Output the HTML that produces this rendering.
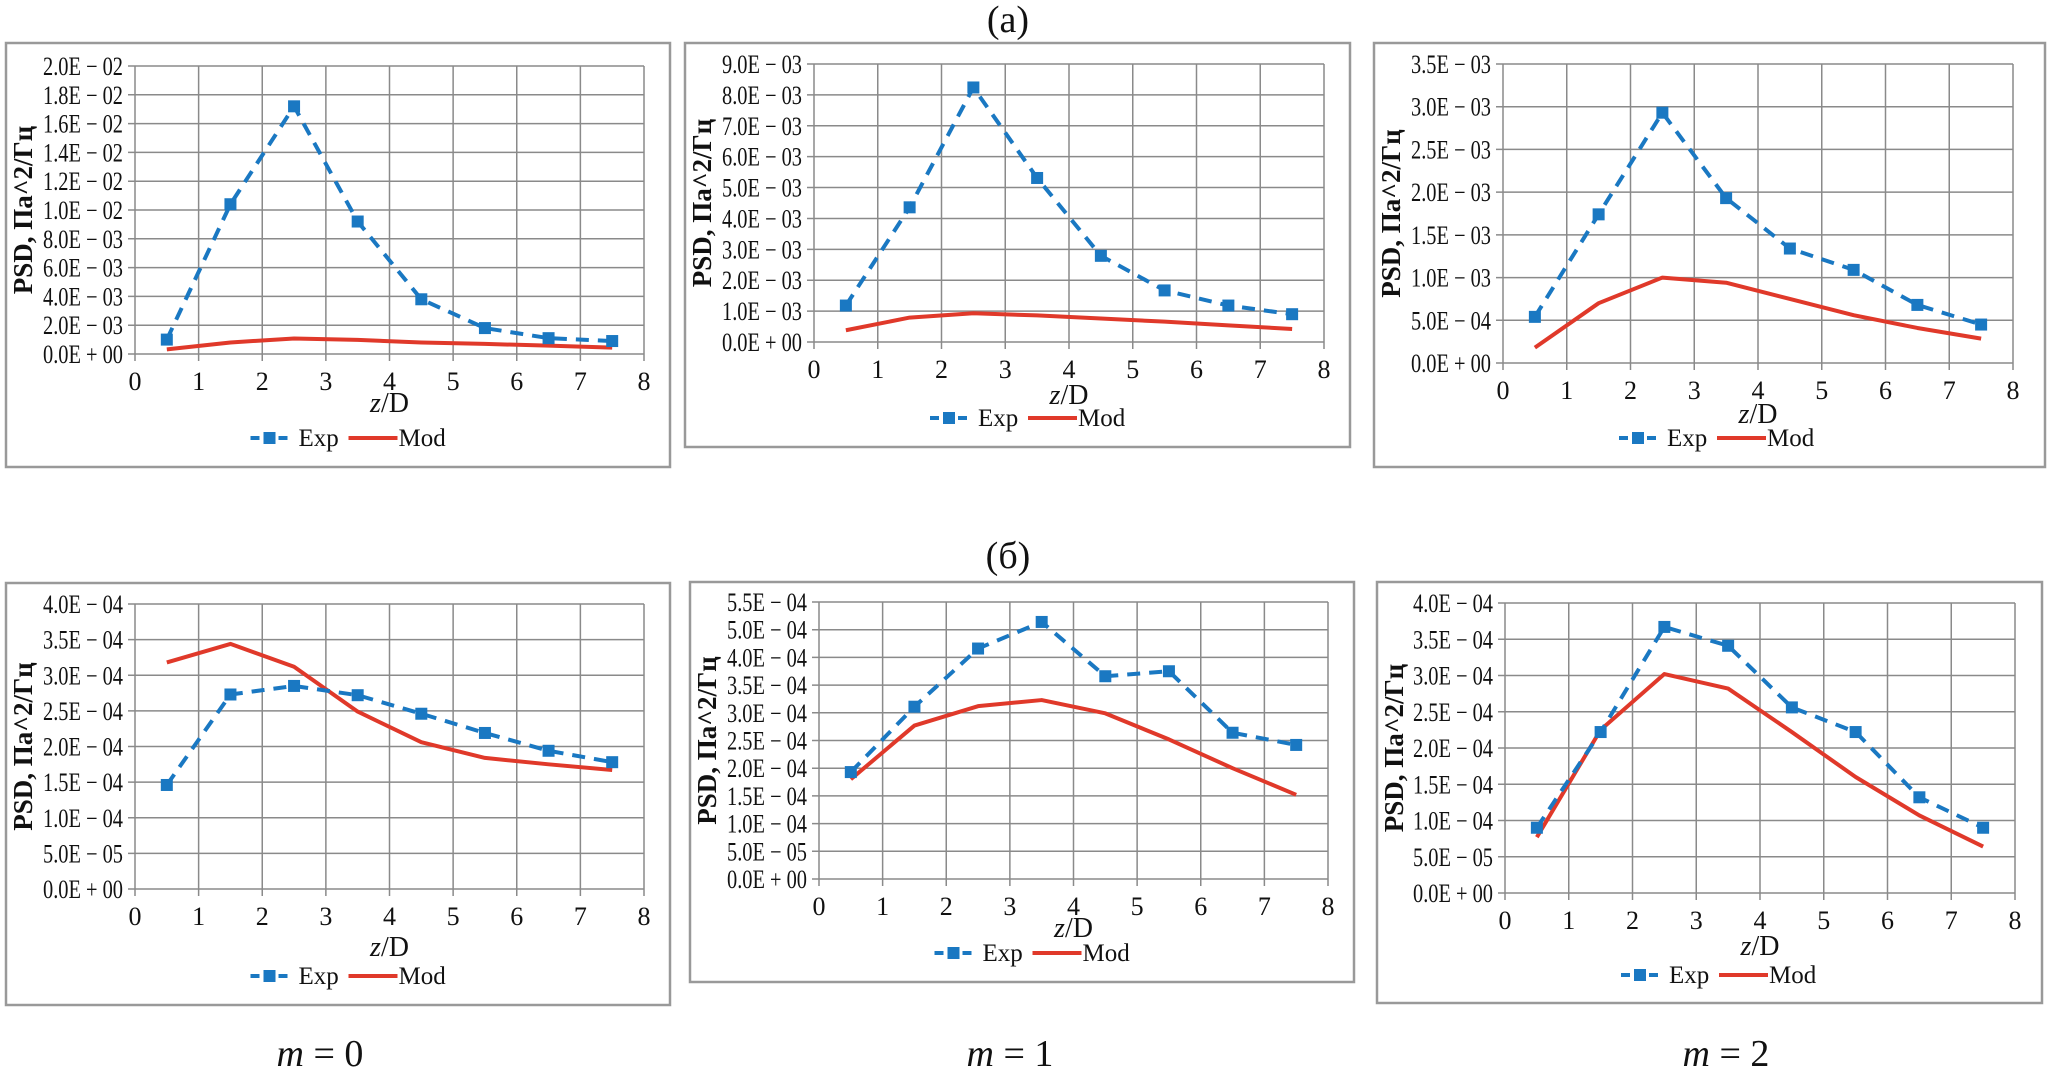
<!DOCTYPE html>
<html><head><meta charset="utf-8"><style>
html,body{margin:0;padding:0;background:#fff;}
svg{display:block;}
text{font-family:"Liberation Serif","DejaVu Serif",serif;fill:#111;}
</style></head><body>
<svg id="fig" width="2055" height="1080" viewBox="0 0 2055 1080" xmlns="http://www.w3.org/2000/svg">
<text x="1008" y="32" font-size="38" text-anchor="middle">(a)</text>
<text x="1008" y="568" font-size="38" text-anchor="middle">(б)</text>
<text x="320" y="1066" font-size="38" text-anchor="middle"><tspan font-style="italic">m</tspan> = 0</text>
<text x="1010" y="1066" font-size="38" text-anchor="middle"><tspan font-style="italic">m</tspan> = 1</text>
<text x="1726" y="1066" font-size="38" text-anchor="middle"><tspan font-style="italic">m</tspan> = 2</text>
</svg>
<script>
// shared x categories
const zCats = [0.5, 1.5, 2.5, 3.5, 4.5, 5.5, 6.5, 7.5];
const xTicks = [0, 1, 2, 3, 4, 5, 6, 7, 8];
// chart a1 (m=0)
const a1Exp = [0.0010, 0.0104, 0.0172, 0.0092, 0.0038, 0.0018, 0.0011, 0.0009];
const a1Mod = [0.00032, 0.0008, 0.00108, 0.00098, 0.0008, 0.0007, 0.00058, 0.00044];
const a1Ticks = ["0.0E + 00","2.0E − 03","4.0E − 03","6.0E − 03","8.0E − 03","1.0E − 02","1.2E − 02","1.4E − 02","1.6E − 02","1.8E − 02","2.0E − 02"];
// chart a2 (m=1)
const a2Exp = [0.00118, 0.00436, 0.00824, 0.00531, 0.00279, 0.00167, 0.00118, 0.0009];
const a2Mod = [0.00038, 0.00079, 0.00093, 0.00086, 0.00076, 0.00066, 0.00054, 0.00042];
const a2Ticks = ["0.0E + 00","1.0E − 03","2.0E − 03","3.0E − 03","4.0E − 03","5.0E − 03","6.0E − 03","7.0E − 03","8.0E − 03","9.0E − 03"];
// chart a3 (m=2)
const a3Exp = [0.00054, 0.00174, 0.00293, 0.00193, 0.00134, 0.00109, 0.00068, 0.00045];
const a3Mod = [0.00018, 0.0007, 0.001, 0.00094, 0.00075, 0.00056, 0.00041, 0.000285];
const a3Ticks = ["0.0E + 00","5.0E − 04","1.0E − 03","1.5E − 03","2.0E − 03","2.5E − 03","3.0E − 03","3.5E − 03"];
// chart b1 (m=0)
const b1Exp = [0.000146, 0.000273, 0.000285, 0.000272, 0.000246, 0.000219, 0.000194, 0.000178];
const b1Mod = [0.000318, 0.000344, 0.000312, 0.000249, 0.000206, 0.000184, 0.000175, 0.000167];
const b1Ticks = ["0.0E + 00","5.0E − 05","1.0E − 04","1.5E − 04","2.0E − 04","2.5E − 04","3.0E − 04","3.5E − 04","4.0E − 04"];
// chart b2 (m=1)
const b2Exp = [0.000193, 0.000311, 0.000416, 0.000464, 0.000366, 0.000375, 0.000264, 0.000242];
const b2Mod = [0.00018, 0.000277, 0.000312, 0.000323, 0.000299, 0.000252, 0.0002, 0.000152];
const b2Ticks = ["0.0E + 00","5.0E − 05","1.0E − 04","1.5E − 04","2.0E − 04","2.5E − 04","3.0E − 04","3.5E − 04","4.0E − 04","5.0E − 04","5.5E − 04"];
// chart b3 (m=2)
const b3Exp = [0.00009, 0.000222, 0.000367, 0.000341, 0.000256, 0.000222, 0.000132, 0.00009];
const b3Mod = [0.000077, 0.000225, 0.000302, 0.000282, 0.000222, 0.00016, 0.000107, 0.000064];
const b3Ticks = ["0.0E + 00","5.0E − 05","1.0E − 04","1.5E − 04","2.0E − 04","2.5E − 04","3.0E − 04","3.5E − 04","4.0E − 04"];

const charts = [
 {id:"a1", exp:a1Exp, mod:a1Mod, ticks:a1Ticks, step:0.002,   box:[6,43,664,424],   plot:[135,66,644,354],  zd:48, lg:84},
 {id:"a2", exp:a2Exp, mod:a2Mod, ticks:a2Ticks, step:0.001,   box:[685,43,665,404], plot:[814,64,1324,342], zd:52, lg:76},
 {id:"a3", exp:a3Exp, mod:a3Mod, ticks:a3Ticks, step:0.0005,  box:[1374,43,671,424],plot:[1503,64,2013,363],zd:50, lg:75},
 {id:"b1", exp:b1Exp, mod:b1Mod, ticks:b1Ticks, step:0.00005, box:[6,583,664,422],  plot:[135,604,644,889], zd:57, lg:87},
 {id:"b2", exp:b2Exp, mod:b2Mod, ticks:b2Ticks, step:0.00005, box:[690,582,664,400],plot:[819,602,1328,879],zd:48, lg:74},
 {id:"b3", exp:b3Exp, mod:b3Mod, ticks:b3Ticks, step:0.00005, box:[1377,582,665,421],plot:[1505,603,2015,893],zd:52, lg:82}
];
const NS = "http://www.w3.org/2000/svg";
const svg = document.getElementById("fig");
function mk(tag, attrs, parent){
  const e = document.createElementNS(NS, tag);
  for (const k in attrs) e.setAttribute(k, attrs[k]);
  (parent||svg).appendChild(e);
  return e;
}
charts.forEach(c => {
  const g = mk("g", {});
  
  
  const [bx,by,bw,bh] = c.box;
  const frame = mk("rect", {x:bx, y:by, width:bw, height:bh, fill:"#fff", stroke:"#999", "stroke-width":2.5}, g);
  
  
  const [x0,y0,x1,y1] = c.plot;
  const nT = c.ticks.length - 1;
  const yMax = c.step * nT;
  const xs = v => x0 + (v - 0) / 8 * (x1 - x0);
  const ys = v => y1 - v / yMax * (y1 - y0);
  c.ticks.forEach((t, i) => {
    const yy = ys(i * c.step);
    const gl = mk("line", {x1:x0-7, x2:x1, y1:yy, y2:yy, stroke:"#8a8a8a", "stroke-width":1.5}, g);
    
    
    const tl = mk("text", {x:x0-12, y:yy+9, "font-size":26, "text-anchor":"end", textLength:80, lengthAdjust:"spacingAndGlyphs"}, g);
    tl.textContent = t;
    
    
  });
  xTicks.forEach(t => {
    const xx = xs(t);
    const gl = mk("line", {x1:xx, x2:xx, y1:y0, y2:y1+7, stroke:"#8a8a8a", "stroke-width":1.5}, g);
    
    
    const tl = mk("text", {x:xx, y:y1+36, "font-size":26, "text-anchor":"middle"}, g);
    tl.textContent = t;
    
    
  });
  const cy = (y0 + y1) / 2;
  const yt = mk("text", {x:0, y:0, "font-size":27, "font-weight":"bold", "text-anchor":"middle", transform:`translate(${bx+26},${cy}) rotate(-90)`}, g);
  yt.textContent = "PSD, Па^2/Гц";
  
  
  const cx = (x0 + x1) / 2;
  const xt = mk("text", {x:cx, y:y1+c.zd+10, "font-size":28, "text-anchor":"middle"}, g);
  xt.innerHTML = '<tspan font-style="italic">z</tspan>/D';
  
  
  const mp = c.mod.map((v,i) => xs(zCats[i]) + "," + ys(v)).join(" ");
  const ml = mk("polyline", {points:mp, fill:"none", stroke:"#e0392a", "stroke-width":4, "stroke-linejoin":"round"}, g);
  
  
  const ep = c.exp.map((v,i) => xs(zCats[i]) + "," + ys(v)).join(" ");
  const el = mk("polyline", {points:ep, fill:"none", stroke:"#1a78c2", "stroke-width":4, "stroke-dasharray":"13 9"}, g);
  
  
  c.exp.forEach((v,i) => {
    const m = mk("rect", {x:xs(zCats[i])-6, y:ys(v)-6, width:12, height:12, fill:"#1a78c2"}, g);
    
    
  });
  const ly = y1 + c.lg;
  const lx = cx - 139;
  const lg = mk("g", {}, g);
  
  
  mk("line", {x1:lx, x2:lx+38, y1:ly, y2:ly, stroke:"#1a78c2", "stroke-width":4, "stroke-dasharray":"9 5"}, lg);
  mk("rect", {x:lx+13, y:ly-6, width:12, height:12, fill:"#1a78c2"}, lg);
  const t1 = mk("text", {x:lx+48, y:ly+8, "font-size":25}, lg);
  t1.textContent = "Exp";
  
  
  mk("line", {x1:lx+98, x2:lx+147, y1:ly, y2:ly, stroke:"#e0392a", "stroke-width":4}, lg);
  const t2 = mk("text", {x:lx+148, y:ly+8, "font-size":25}, lg);
  t2.textContent = "Mod";
  
  
});
</script>
</body></html>
